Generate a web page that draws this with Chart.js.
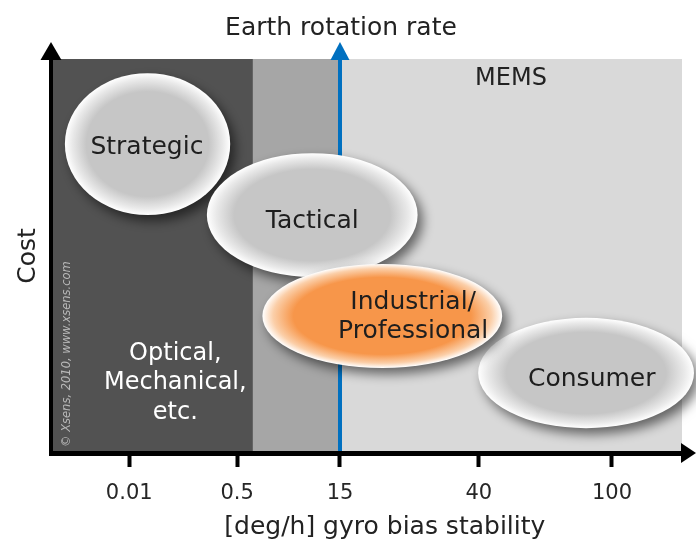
<!DOCTYPE html>
<html>
<head>
<meta charset="utf-8">
<title>Gyro grades: cost vs bias stability</title>
<script src="https://cdn.jsdelivr.net/npm/chart.js@4.4.1/dist/chart.umd.min.js"></script>
<style>
  html, body { margin: 0; padding: 0; background: #ffffff; }
  #wrap { width: 696px; height: 541px; }
</style>
</head>
<body>
<div id="wrap"><canvas id="gyro" width="696" height="541"></canvas></div>
<script>
// Bias-stability axis: ordinal positions and their labels (deg/h)
const tickLabels = ['0.01', '0.5', '15', '40', '100'];
const tickPositions = [12.4, 29.5, 45.8, 67.8, 88.9];

// Earth rotation rate sits on the 15 deg/h mark
const earthRotationRate = 45.8;

// Technology bands along the stability axis
const bandEdges = [0, 32.0, 45.8, 100];
const bandNames = ['Optical,\nMechanical,\netc.', '', 'MEMS'];

// Gyro grades: centre and spread on both axes (stability, cost)
const gradeNames = ['Strategic', 'Tactical', 'Consumer', 'Industrial/\nProfessional'];
const gradeStability = [15.3, 41.4, 84.8, 52.5];
const gradeCost = [78.4, 60.4, 20.3, 34.8];
const gradeStabilitySpread = [13.1, 16.7, 17.1, 19.0];
const gradeCostSpread = [18.0, 15.7, 14.0, 13.2];
const gradeLabelStability = [15.2, 41.4, 85.7, 57.4];
const gradeLabelCost = [78.2, 59.4, 19.3, 35.3];

const FONT = "'DejaVu Sans', Verdana, sans-serif";

const style = {
  bandFills: ['#525252', '#a6a6a6', '#d9d9d9'],
  bandText: ['#ffffff', '#ffffff', '#222222'],
  bandFont: ['24px', '24px', '24px'],
  bandTextAt: [{x: 19.7, y: 18.5}, null, {x: 72.9, y: 95.7}],
  gradeCore: ['#c6c6c6', '#c6c6c6', '#c6c6c6', '#f7964a'],
  gradeRim: ['#e9e9e9', '#e9e9e9', '#e9e9e9', '#fbcfa9'],
  earthColor: '#0070c0',
  textShift: 3,
  credit: '\u00a9 Xsens, 2010, www.xsens.com',
  creditAt: {x: 2.5, y: 25.1}
};

function drawLines(ctx, text, x, y, lineH) {
  const lines = text.split('\n');
  const y0 = y - (lines.length - 1) * lineH / 2 + style.textShift;
  lines.forEach((l, i) => ctx.fillText(l, x, y0 + i * lineH));
}

const diagram = {
  id: 'diagram',
  beforeDraw(chart) {
    const {ctx, chartArea: a, scales: {x}} = chart;
    ctx.save();
    for (let i = 0; i < style.bandFills.length; i++) {
      const x0 = x.getPixelForValue(bandEdges[i]);
      const x1 = x.getPixelForValue(bandEdges[i + 1]);
      ctx.fillStyle = style.bandFills[i];
      ctx.fillRect(x0, a.top, x1 - x0, a.bottom - a.top);
    }
    ctx.restore();
  },
  beforeDatasetsDraw(chart) {
    const {ctx, chartArea: a, scales: {x, y}} = chart;
    ctx.save();
    // band captions
    ctx.textAlign = 'center';
    ctx.textBaseline = 'middle';
    bandNames.forEach((name, i) => {
      if (!name) return;
      const at = style.bandTextAt[i];
      ctx.fillStyle = style.bandText[i];
      ctx.font = style.bandFont[i] + ' ' + FONT;
      drawLines(ctx, name, x.getPixelForValue(at.x), y.getPixelForValue(at.y), 29.5);
    });
    // credit line
    ctx.save();
    ctx.translate(x.getPixelForValue(style.creditAt.x), y.getPixelForValue(style.creditAt.y));
    ctx.rotate(-Math.PI / 2);
    ctx.font = 'italic 11.5px ' + FONT;
    ctx.fillStyle = '#b8b8b8';
    ctx.fillText(style.credit, 0, 0);
    ctx.restore();
    // Earth rotation rate marker
    const ex = x.getPixelForValue(earthRotationRate);
    ctx.strokeStyle = style.earthColor;
    ctx.lineWidth = 4;
    ctx.beginPath();
    ctx.moveTo(ex, a.top);
    ctx.lineTo(ex, a.bottom - 2);
    ctx.stroke();
    ctx.restore();
  },
  afterDatasetsDraw(chart) {
    const {ctx, scales: {x, y}} = chart;
    const pts = chart.getDatasetMeta(0).data;
    pts.forEach((p, i) => {
      const rx = Math.abs(x.getPixelForValue(gradeStability[i] + gradeStabilitySpread[i]) - p.x);
      const ry = Math.abs(y.getPixelForValue(gradeCost[i] + gradeCostSpread[i]) - p.y);
      ctx.save();
      ctx.shadowColor = 'rgba(0,0,0,0.55)';
      ctx.shadowBlur = 12;
      ctx.shadowOffsetX = 5;
      ctx.shadowOffsetY = 6;
      ctx.translate(p.x, p.y);
      ctx.scale(rx, ry);
      const g = ctx.createRadialGradient(0, 0, 0, 0, 0, 1);
      g.addColorStop(0, style.gradeCore[i]);
      g.addColorStop(0.74, style.gradeCore[i]);
      g.addColorStop(0.91, style.gradeRim[i]);
      g.addColorStop(1, '#ffffff');
      ctx.fillStyle = g;
      ctx.beginPath();
      ctx.arc(0, 0, 1, 0, Math.PI * 2);
      ctx.fill();
      ctx.restore();

      ctx.save();
      ctx.fillStyle = '#1e1e1e';
      ctx.font = '25px ' + FONT;
      ctx.textAlign = 'center';
      ctx.textBaseline = 'middle';
      drawLines(ctx, gradeNames[i], x.getPixelForValue(gradeLabelStability[i]),
                y.getPixelForValue(gradeLabelCost[i]), 29);
      ctx.restore();
    });
  },
  afterDraw(chart) {
    const {ctx, chartArea: a, scales: {x}} = chart;
    ctx.save();
    // arrow heads on the axes and on the Earth-rate marker
    const head = (tipX, tipY, b1x, b1y, b2x, b2y, color) => {
      ctx.fillStyle = color;
      ctx.beginPath();
      ctx.moveTo(tipX, tipY);
      ctx.lineTo(b1x, b1y);
      ctx.lineTo(b2x, b2y);
      ctx.closePath();
      ctx.fill();
    };
    head(a.left, a.top - 17, a.left - 10.5, a.top + 1, a.left + 10.5, a.top + 1, '#000');
    const ex = x.getPixelForValue(earthRotationRate);
    head(ex, a.top - 17, ex - 9.5, a.top + 1, ex + 9.5, a.top + 1, style.earthColor);
    head(a.right + 14, a.bottom, a.right - 1, a.bottom - 10, a.right - 1, a.bottom + 10, '#000');
    // stability axis caption
    ctx.fillStyle = '#222';
    ctx.font = '25px ' + FONT;
    ctx.textAlign = 'center';
    ctx.textBaseline = 'middle';
    ctx.fillText('[deg/h] gyro bias stability', x.getPixelForValue(52.9), a.bottom + 74);
    ctx.restore();
  }
};

new Chart(document.getElementById('gyro'), {
  type: 'scatter',
  data: {
    datasets: [{
      label: 'Gyro grades',
      data: gradeStability.map((v, i) => ({x: v, y: gradeCost[i]})),
      pointRadius: 0,
      pointHoverRadius: 0
    }]
  },
  options: {
    responsive: false,
    devicePixelRatio: 1,
    animation: false,
    events: [],
    layout: {padding: {top: 0, right: 14, bottom: 0, left: 0}},
    plugins: {
      legend: {display: false},
      tooltip: {enabled: false},
      title: {
        display: true,
        text: 'Earth rotation rate',
        color: '#222',
        font: {family: FONT, size: 25, weight: 'normal'},
        padding: {top: 13, bottom: 16}
      }
    },
    scales: {
      x: {
        type: 'linear',
        min: 0,
        max: 100,
        afterFit: (s) => { s.height = 88; },
        afterBuildTicks: (s) => { s.ticks = tickPositions.map(v => ({value: v})); },
        ticks: {
          autoSkip: false,
          maxRotation: 0,
          padding: 14,
          color: '#262626',
          font: {family: FONT, size: 21},
          callback: (v, i) => tickLabels[i]
        },
        grid: {
          display: true,
          drawOnChartArea: false,
          drawTicks: true,
          tickLength: 14,
          tickWidth: 4,
          tickColor: '#000'
        },
        border: {display: true, width: 5, color: '#000'}
      },
      y: {
        type: 'linear',
        min: 0,
        max: 100,
        afterFit: (s) => { s.width = 51; },
        ticks: {display: false},
        grid: {display: false},
        border: {display: true, width: 4, color: '#000'},
        title: {
          display: true,
          text: 'Cost',
          color: '#222',
          font: {family: FONT, size: 25},
          padding: {top: 13, bottom: 0}
        }
      }
    }
  },
  plugins: [diagram]
});
</script>
</body>
</html>
